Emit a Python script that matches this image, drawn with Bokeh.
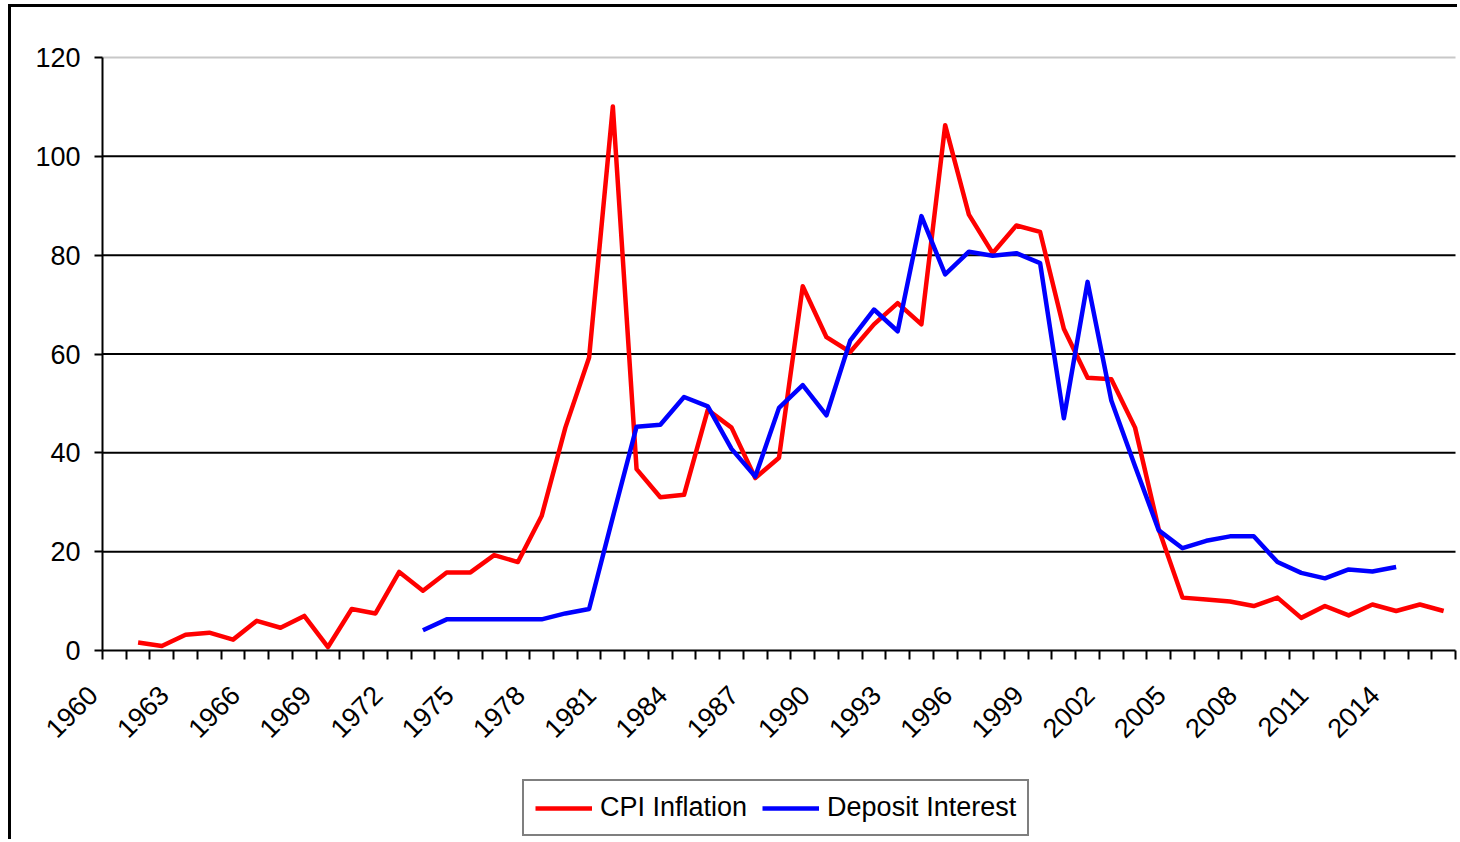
import math
from bokeh.plotting import figure
from bokeh.models import (FixedTicker, Legend, LegendItem, Range1d,
                          ColumnDataSource, CustomJSTickFormatter)
from bokeh.embed import file_html
from bokeh.resources import INLINE

nan = float("nan")

years = list(range(1960, 2017))
cpi_inflation = [nan, 1.6, 0.9, 3.2, 3.6, 2.2, 6.0, 4.6, 7.0, 0.7,
                 8.4, 7.5, 15.9, 12.1, 15.8, 15.8, 19.3, 17.9, 27.2, 45.1,
                 59.3, 110.1, 36.7, 31.0, 31.5, 48.7, 45.1, 34.9, 39.0, 73.7,
                 63.4, 60.4, 66.0, 70.3, 66.0, 106.3, 88.2, 80.4, 86.0, 84.7,
                 65.1, 55.2, 54.9, 45.1, 24.5, 10.7, 10.3, 9.9, 9.0, 10.7,
                 6.6, 9.0, 7.1, 9.3, 8.0, 9.3, 8.0]
deposit_interest = [nan, nan, nan, nan, nan, nan, nan, nan, nan, nan,
                    nan, nan, nan, 4.1, 6.3, 6.3, 6.3, 6.3, 6.3, 7.5,
                    8.4, 27.0, 45.3, 45.7, 51.3, 49.4, 40.8, 35.2, 49.1, 53.7,
                    47.6, 62.7, 69.0, 64.6, 87.9, 76.1, 80.7, 79.9, 80.4, 78.4,
                    47.0, 74.6, 50.6, 37.3, 24.3, 20.7, 22.2, 23.1, 23.1, 17.9,
                    15.7, 14.6, 16.4, 16.0, 16.9, nan, nan]
label_years = list(range(1960, 2015, 3))
y_ticks = [0, 20, 40, 60, 80, 100, 120]
grid_ticks = [20, 40, 60, 80, 100]
series_names = ["CPI Inflation", "Deposit Interest"]

FONT = "Liberation Sans"

# ---- layout (canvas pixels): plot area x 91..1444, y 50..643 ----
W, H = 1449, 835
PL, PR, PT, PB = 91, 1444, 50, 643
x_lo, x_hi = years[0] - 0.5, years[-1] + 0.5
y_lo, y_hi = y_ticks[0], y_ticks[-1]
sx = (PR - PL) / (x_hi - x_lo)
sy = (PB - PT) / (y_hi - y_lo)
# the frame covers the whole canvas so the axes' labels and the legend are never clipped
x_range = Range1d(x_lo - PL / sx, x_hi + (W - PR) / sx)
y_range = Range1d(y_lo - (H - PB) / sy, y_hi + PT / sy)

src = ColumnDataSource(dict(year=years, cpi=cpi_inflation, dep=deposit_interest))
grid_src = ColumnDataSource(dict(y=grid_ticks, x0=[x_lo] * len(grid_ticks),
                                 x1=[x_hi] * len(grid_ticks)))
top_src = ColumnDataSource(dict(y=[y_hi], x0=[x_lo], x1=[x_hi]))

p = figure(width=W, height=H, x_range=x_range, y_range=y_range,
           output_backend="svg", toolbar_location=None,
           min_border=0, min_border_left=0, min_border_right=0,
           min_border_top=0, min_border_bottom=0,
           background_fill_color="white", border_fill_color="white",
           outline_line_color=None)
p.styles = {"margin-left": "8px", "margin-top": "4px",
            "border-left": "3px solid black", "border-top": "3px solid black"}
p.xgrid.visible = False
p.ygrid.visible = False

# horizontal grid lines (black) and the light top border of the plot area
p.segment(x0="x0", x1="x1", y0="y", y1="y", source=grid_src,
          line_color="black", line_width=2, level="underlay")
p.segment(x0="x0", x1="x1", y0="y", y1="y", source=top_src,
          line_color="#c8c8c8", line_width=2, level="underlay")

# x axis at value 0: labels every 3 years, tick marks between categories
p.xaxis.fixed_location = y_lo
p.xaxis.bounds = (x_lo, x_hi)
p.xaxis.ticker = FixedTicker(ticks=label_years,
                             minor_ticks=[y - 0.5 for y in years] + [x_hi])
# trailing no-break spaces move the rotated label's end left of the category centre
p.xaxis.formatter = CustomJSTickFormatter(
    code="return String(Math.round(tick)) + '\\u00a0\\u00a0\\u00a0\\u00a0';")
p.xaxis.major_tick_out = 0
p.xaxis.major_tick_in = 0
p.xaxis.minor_tick_out = 9
p.xaxis.minor_tick_in = 0
p.xaxis.minor_tick_line_width = 2
p.xaxis.minor_tick_line_color = "black"
p.xaxis.axis_line_width = 2
p.xaxis.axis_line_color = "black"
p.xaxis.major_label_orientation = math.pi / 4
p.xaxis.major_label_text_font_size = "27px"
p.xaxis.major_label_text_font = FONT
p.xaxis.major_label_text_color = "black"
p.xaxis.major_label_standoff = 10

# y axis at the left category edge
p.yaxis.fixed_location = x_lo
p.yaxis.bounds = (y_lo, y_hi)
p.yaxis.ticker = FixedTicker(ticks=y_ticks)
p.yaxis.major_tick_out = 8
p.yaxis.major_tick_in = 0
p.yaxis.minor_tick_out = 0
p.yaxis.minor_tick_in = 0
p.yaxis.major_tick_line_width = 2
p.yaxis.major_tick_line_color = "black"
p.yaxis.axis_line_width = 2
p.yaxis.axis_line_color = "black"
p.yaxis.major_label_text_font_size = "27px"
p.yaxis.major_label_text_font = FONT
p.yaxis.major_label_text_color = "black"
p.yaxis.major_label_standoff = 14

r1 = p.line("year", "cpi", source=src, line_color="#ff0000", line_width=4.5, line_join="round")
r2 = p.line("year", "dep", source=src, line_color="#0000ff", line_width=4.5, line_join="round")

legend = Legend(items=[LegendItem(label=series_names[0], renderers=[r1]),
                       LegendItem(label=series_names[1], renderers=[r2])],
                orientation="horizontal", location=(511, 6),
                label_text_font=FONT, label_text_font_size="27px", label_text_color="black",
                glyph_width=57, glyph_height=20, label_standoff=8, spacing=15,
                padding=11, margin=0,
                border_line_color="black", border_line_width=2,
                background_fill_color="white", background_fill_alpha=1.0)
p.add_layout(legend)

open("out.html", "w").write(file_html(p, INLINE))
